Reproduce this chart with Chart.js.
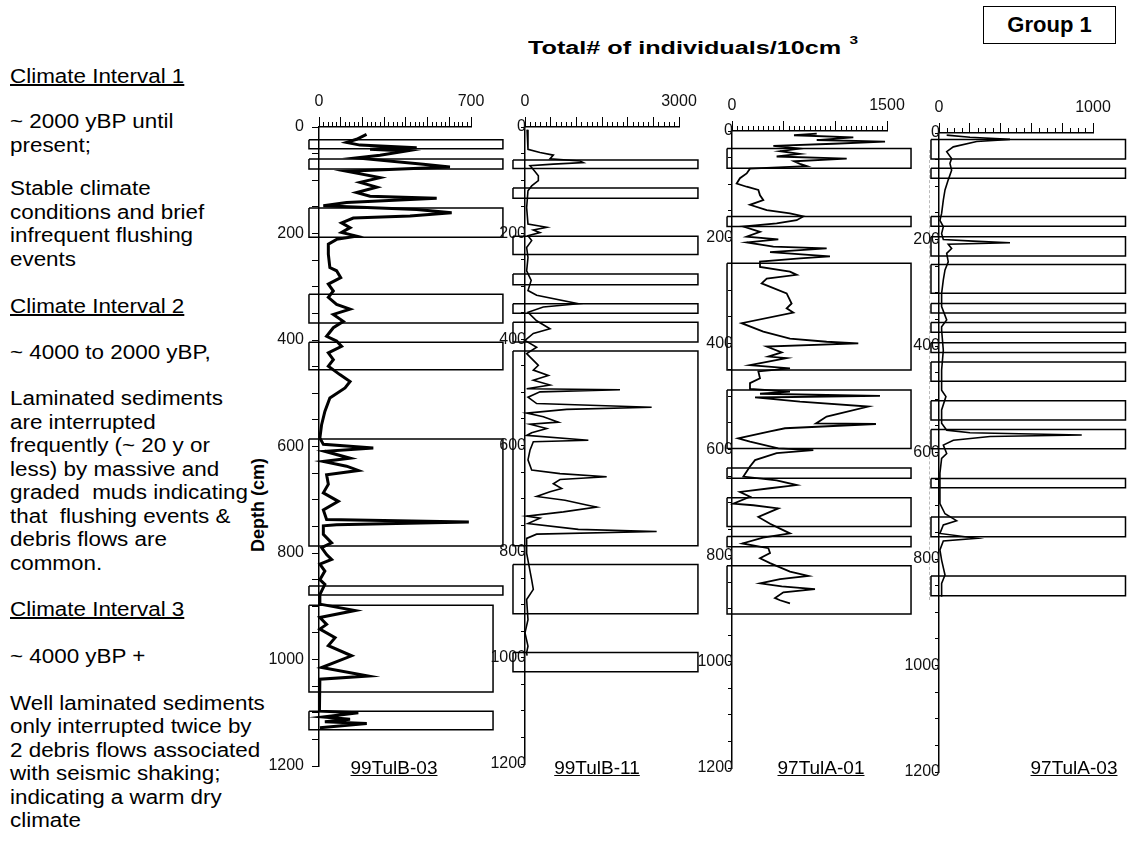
<!DOCTYPE html>
<html>
<head>
<meta charset="utf-8">
<script src="https://cdn.jsdelivr.net/npm/chart.js@4.4.1/dist/chart.umd.min.js"></script>
<style>
  html, body { margin: 0; padding: 0; background: #fff; }
  #stage { position: relative; width: 1131px; height: 847px; overflow: hidden;
           font-family: 'Liberation Sans', Arial, sans-serif; color: #000; }
  .panel { position: absolute; }
  .panel canvas { display: block; }
  .notes { position: absolute; left: 10px; font-size: 20px; line-height: 23.5px; white-space: nowrap;
           transform: scaleX(1.12); transform-origin: 0 0; }
  .u { text-decoration: underline; }
  .title { position: absolute; left: 528px; top: 37px; font-weight: bold; font-size: 18px; white-space: nowrap;
           transform: scaleX(1.4); transform-origin: 0 0; }
  .title sup { font-size: 11px; position: relative; top: -3px; margin-left: 6px; }
  .group { position: absolute; left: 983px; top: 6px; width: 131px; height: 36px; border: 1.5px solid #000;
           font-weight: bold; font-size: 22px; line-height: 36px; text-align: center; }
  .depth { position: absolute; left: 258px; top: 505px; font-weight: bold; font-size: 18px; white-space: nowrap;
           transform: translate(-50%, -50%) rotate(-90deg); }
  .core { position: absolute; top: 757px; font-size: 19px; text-decoration: underline; white-space: nowrap;
          transform: translateX(-50%); }
  .divider { position: absolute; left: 929px; top: 150px; height: 450px; border-left: 1px dashed #bbb; }
</style>
</head>
<body>
<div id="stage">
  <div class="title">Total# of individuals/10cm<sup>3</sup></div>
  <div class="group">Group 1</div>

  <div class="notes u" style="top:65px">Climate Interval 1</div>
  <div class="notes" style="top:110px">~ 2000 yBP until<br>present;</div>
  <div class="notes" style="top:177px">Stable climate<br>conditions and brief<br>infrequent flushing<br>events</div>
  <div class="notes u" style="top:295px">Climate Interval 2</div>
  <div class="notes" style="top:341px">~ 4000 to 2000 yBP,</div>
  <div class="notes" style="top:387px">Laminated sediments<br>are interrupted<br>frequently (~ 20 y or<br>less) by massive and<br>graded&nbsp; muds indicating<br>that&nbsp; flushing events &amp;<br>debris flows are<br>common.</div>
  <div class="notes u" style="top:598px">Climate Interval 3</div>
  <div class="notes" style="top:645px">~ 4000 yBP +</div>
  <div class="notes" style="top:691.5px">Well laminated sediments<br>only interrupted twice by<br>2 debris flows associated<br>with seismic shaking;<br>indicating a warm dry<br>climate</div>

  <div class="depth">Depth (cm)</div>
  <div class="divider"></div>

  <div class="panel" id="p1"><canvas></canvas></div>
  <div class="panel" id="p2"><canvas></canvas></div>
  <div class="panel" id="p3"><canvas></canvas></div>
  <div class="panel" id="p4"><canvas></canvas></div>

  <div class="core" style="left:394px">99TulB-03</div>
  <div class="core" style="left:597px">99TulB-11</div>
  <div class="core" style="left:821px">97TulA-01</div>
  <div class="core" style="left:1074px">97TulA-03</div>
</div>

<script>
// ---- Core 99TulB-03: depth (cm) and total individuals per 10 cm3 ----
const depthB03 = [14,23,29,34,39,42,45,53,58,70,75,83,95,104,113,123,130,134,142,148,155,161,167,171,180,189,198,205,211,220,239,264,270,283,295,308,320,333,342,352,365,377,393,402,412,424,437,449,465,478,490,509,534,559,584,596,603,609,622,628,637,645,653,671,687,703,719,737,742,747,749,765,781,790,803,812,821,834,850,859,878,896,908,921,934,943,959,974,993,1015,1031,1037,1065,1097,1100,1108,1112,1117,1120,1128];
const countB03 = [219,173,127,189,450,235,404,281,173,480,603,127,281,189,266,173,235,542,127,20,450,611,419,158,104,143,104,173,81,43,43,50,81,100,43,66,43,81,143,66,112,66,35,81,104,43,66,43,96,143,120,50,27,12,4,20,250,27,143,20,127,181,35,43,20,89,20,35,690,81,20,20,58,12,35,58,4,27,4,27,4,4,166,4,35,4,74,43,150,12,227,4,2,2,181,20,143,27,220,4];
const flowsB03 = [[24,41],[60,79],[152,207],[314,368],[404,456],[586,787],[862,879],[898,1061],[1097,1132]];

// ---- Core 99TulB-11 ----
const depthB11 = [5,42,48,53,60,64,67,70,73,80,92,101,111,120,152,183,189,194,199,205,214,227,246,271,289,308,317,333,339,349,365,380,389,402,415,427,449,458,468,477,486,493,495,499,509,521,528,532,539,546,556,560,568,576,581,590,593,609,627,646,653,659,664,672,681,687,696,703,712,716,725,733,737,747,758,762,767,775,803,853,871,890,928,953,978,990,996];
const countB11 = [40,58,292,552,487,1071,1136,552,97,162,260,260,130,58,32,58,423,162,292,58,130,32,58,32,120,58,227,1039,357,58,227,487,162,0,227,32,260,162,455,162,487,32,1850,292,58,227,2467,812,32,357,650,97,422,130,32,1234,162,97,58,130,682,1591,682,552,714,487,227,779,1201,1396,747,32,292,58,1039,2565,227,32,32,130,162,32,58,0,58,32,40];
const flowsB11 = [[62,78],[115,134],[206,240],[277,297],[333,351],[368,405],[422,789],[824,917],[990,1026]];

// ---- Core 97TulA-01 ----
const depthA01 = [5,8,12,17,20,24,28,33,38,43,48,52,57,62,66,71,80,89,99,105,111,121,130,139,149,155,161,168,174,180,190,199,204,210,218,221,228,236,240,246,256,265,271,278,287,306,325,334,342,362,378,391,397,400,406,417,425,428,441,447,453,466,475,486,491,495,499,502,510,519,538,551,552,560,566,579,585,598,601,607,620,632,651,658,667,673,680,689,702,705,711,727,740,749,758,766,777,786,795,805,814,830,838,844,852,858,863,869,880,884,890];
const countA01 = [820,600,1174,820,1481,981,400,658,465,658,432,1110,600,658,723,174,142,77,45,142,255,271,303,174,336,561,690,626,432,110,271,142,448,142,400,916,368,948,658,271,271,561,626,336,287,529,577,529,593,93,303,561,916,1222,336,481,352,529,174,561,255,271,174,174,561,271,1432,223,658,1319,916,813,1393,513,368,60,174,448,787,432,223,174,110,432,626,368,77,174,13,206,448,255,368,465,561,300,100,352,368,271,368,561,739,465,271,481,803,497,416,465,561];
const flowsA01 = [[33,70],[161,180],[249,450],[488,598],[635,654],[691,745],[764,783],[819,910]];

// ---- Core 97TulA-03 ----
const depthA03 = [4,8,12,16,26,35,48,57,70,88,107,126,151,164,176,189,200,203,206,209,217,226,242,257,276,301,326,351,364,370,408,445,483,495,520,545,558,563,567,570,577,586,602,611,639,671,696,715,728,736,752,761,766,783,802,830,846,871];
const countA03 = [50,201,461,245,93,50,82,71,82,60,39,28,17,6,28,17,28,221,461,60,82,50,60,39,28,17,17,50,17,17,28,17,17,45,17,17,50,201,927,331,93,28,50,17,6,6,6,39,114,28,6,245,28,6,17,39,17,17];
const flowsA03 = [[12,49],[66,85],[157,175],[195,231],[247,301],[320,338],[356,374],[394,412],[430,466],[503,539],[557,593],[649,666],[721,758],[832,869]];

// ---- Axis ranges ----
const depthMax = 1200;
const depthStep = 50;
const depthLabelStep = 200;

Chart.defaults.font.family = "'Liberation Sans', Arial, sans-serif";
Chart.defaults.color = '#111';

// Short ruler ticks between the labelled steps of the count axis
const rulerTicks = {
  id: 'rulerTicks',
  afterDraw(chart, args, opts) {
    const xs = chart.scales.x, ctx = chart.ctx;
    const yLine = xs.bottom;
    ctx.save();
    ctx.strokeStyle = '#000';
    ctx.lineWidth = 1;
    for (let v = 0; v <= xs.max + 1e-9; v += opts.minor) {
      const r = v / opts.major;
      if (Math.abs(r - Math.round(r)) < 1e-6) continue;
      const px = Math.round(xs.getPixelForValue(v)) + 0.5;
      ctx.beginPath();
      ctx.moveTo(px, yLine);
      ctx.lineTo(px, yLine - opts.len);
      ctx.stroke();
    }
    ctx.restore();
  }
};

// Canvas margins around each plot area
const PAD_L = 70, PAD_T = 60, PAD_R = 45, PAD_B = 25;
const AXIS_W = 55, AXIS_H = 40;

function flowBoxes(p) {
  return p.flows.map(([top, bot], i) => {
    const left = p.max * p.boxLeft;
    const right = p.max * ((p.narrow || []).includes(i) ? p.boxRightNarrow : p.boxRight);
    return {
      data: [{x: left, y: top}, {x: right, y: top}, {x: right, y: bot}, {x: left, y: bot}, {x: left, y: top}],
      borderColor: '#000', borderWidth: 1.5, pointRadius: 0, fill: false, tension: 0, clip: false
    };
  });
}

function makePanel(p) {
  const wrap = document.getElementById(p.id);
  const canvas = wrap.querySelector('canvas');
  const W = (p.x1 - p.x0) + PAD_L + PAD_R;
  const H = (p.yEnd - p.y0) + PAD_T + PAD_B;
  wrap.style.left = (p.x0 - PAD_L) + 'px';
  wrap.style.top = (p.y0 - PAD_T) + 'px';
  canvas.width = W; canvas.height = H;
  canvas.style.width = W + 'px'; canvas.style.height = H + 'px';

  const series = {
    data: p.depth.map((d, i) => ({x: p.count[i], y: d})),
    borderColor: '#000', borderWidth: p.lineWidth, pointRadius: 0, fill: false,
    tension: 0, clip: false, borderJoinStyle: 'miter'
  };

  const zeroPad = s => { s.paddingLeft = 0; s.paddingRight = 0; s.paddingTop = 0; s.paddingBottom = 0; };

  new Chart(canvas, {
    type: 'line',
    data: { datasets: [series, ...flowBoxes(p)] },
    plugins: [rulerTicks],
    options: {
      responsive: false, animation: false, devicePixelRatio: 1,
      layout: { padding: { left: PAD_L - AXIS_W, top: PAD_T - AXIS_H, right: PAD_R, bottom: PAD_B } },
      plugins: { legend: { display: false }, tooltip: { enabled: false },
                 rulerTicks: { minor: p.minor, major: p.major, len: 5 } },
      scales: {
        x: {
          type: 'linear', position: 'top', min: 0, max: p.max,
          afterFit: s => { s.height = AXIS_H; zeroPad(s); },
          ticks: { stepSize: p.major, autoSkip: false, maxRotation: 0, padding: 6,
                   font: { size: 16 }, color: '#111',
                   callback: v => (v === 0 || v === p.max) ? String(v) : '' },
          grid: { display: true, drawOnChartArea: false, drawTicks: true, tickLength: 10,
                  color: '#000', tickColor: '#000', lineWidth: 1 },
          border: { display: true, color: '#000', width: 1.5 }
        },
        y: {
          type: 'linear', position: 'left', reverse: true, min: 0, max: depthMax,
          afterFit: s => { s.width = AXIS_W; zeroPad(s); },
          ticks: { stepSize: depthStep, autoSkip: false, padding: p.yPad,
                   font: { size: 16 }, color: '#111',
                   callback: v => (v % depthLabelStep === 0) ? String(v) : '' },
          grid: { display: true, drawOnChartArea: false, drawTicks: true, tickLength: p.yTick,
                  color: '#000', tickColor: '#000', lineWidth: 1 },
          border: { display: true, color: '#000', width: 1.5 }
        }
      }
    }
  });
}

makePanel({ id: 'p1', x0: 319, x1: 471, y0: 127, yEnd: 766, max: 700, major: 100, minor: 20,
            depth: depthB03, count: countB03, flows: flowsB03, lineWidth: 3,
            yTick: 7, yPad: 8, boxLeft: -0.066, boxRight: 1.21, boxRightNarrow: 1.145, narrow: [7, 8] });
makePanel({ id: 'p2', x0: 525, x1: 679, y0: 127, yEnd: 764, max: 3000, major: 500, minor: 100,
            depth: depthB11, count: countB11, flows: flowsB11, lineWidth: 1.6,
            yTick: 4, yPad: -5, boxLeft: -0.078, boxRight: 1.123 });
makePanel({ id: 'p3', x0: 732, x1: 887, y0: 131, yEnd: 768, max: 1500, major: 500, minor: 50,
            depth: depthA01, count: countA01, flows: flowsA01, lineWidth: 1.8,
            yTick: 4, yPad: -5, boxLeft: -0.032, boxRight: 1.155 });
makePanel({ id: 'p4', x0: 939, x1: 1093, y0: 133, yEnd: 772, max: 1000, major: 200, minor: 50,
            depth: depthA03, count: countA03, flows: flowsA03, lineWidth: 1.6,
            yTick: 4, yPad: -5, boxLeft: -0.052, boxRight: 1.211 });
</script>
</body>
</html>
